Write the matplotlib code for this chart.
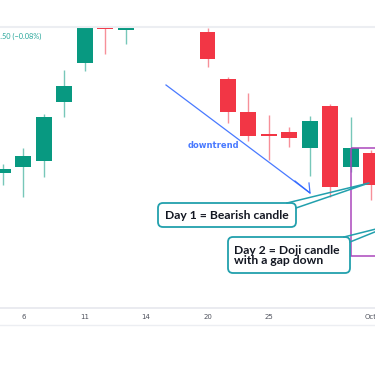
import matplotlib.pyplot as plt
from matplotlib.patches import FancyBboxPatch, Rectangle
from matplotlib.lines import Line2D

# daily candles (index = trading-day slot, 7..9 are above the visible pane)
idx = [0, 1, 2, 3, 4, 5, 6, 10, 11, 12, 13, 14, 15, 16, 17, 18]
opens = [135.5, 136.1, 136.7, 142.6, 146.5, 151.3, 149.8, 149.6, 144.9, 141.6, 139.4, 139.6, 138.0, 142.2, 136.1, 137.5]
closes = [135.9, 137.2, 141.1, 144.2, 150.2, 149.9, 150.8, 146.9, 141.6, 139.2, 139.2, 139.0, 140.7, 134.1, 138.0, 134.3]
highs = [136.4, 138.0, 141.4, 145.8, 150.8, 151.8, 151.3, 150.0, 145.1, 143.5, 141.3, 140.1, 141.2, 142.4, 141.1, 137.8]
lows = [134.3, 133.1, 135.1, 141.1, 145.7, 147.4, 148.4, 146.1, 140.5, 138.7, 136.8, 138.1, 135.2, 133.1, 135.6, 132.8]

tick_pos = [1, 4, 7, 10, 13, 18]
tick_labels = ["6", "11", "14", "20", "25", "Oct"]

UP = "#089981"
DOWN = "#f23645"

fig = plt.figure(figsize=(3.75, 3.66), dpi=100)
W, H = 375, 366

# price pane: pixel rows 28..308
ax = fig.add_axes([0, (H - 308) / H, 1, 280 / H])
ax.set_xlim((0 - 3) / 20.45, (W - 3) / 20.45)
ax.set_ylim(122.0, 150.0)
ax.axis("off")

for i, o, c, h, l in zip(idx, opens, closes, highs, lows):
    col = UP if c >= o else DOWN
    ax.vlines(i, l, h, color=col, lw=1.0, alpha=0.55, zorder=2)
    body = abs(c - o)
    if body < 0.1:
        body = 0.1
    ax.bar(i, body, bottom=min(o, c), width=0.78, color=col, zorder=3, linewidth=0)

# overlay in pixel coordinates for drawings and frame
ov = fig.add_axes([0, 0, 1, 1], zorder=5)
ov.set_xlim(0, W)
ov.set_ylim(H, 0)
ov.axis("off")
ov.patch.set_alpha(0)

# pane separators
ov.plot([0, W], [27, 27], color="#eceef2", lw=1.5)
ov.plot([0, W], [308, 308], color="#e6e8ee", lw=1.2)
ov.plot([0, W], [325, 325], color="#eceef2", lw=1.0)

for p, lab in zip(tick_pos, tick_labels):
    xp = 3 + 20.45 * p
    ov.text(xp, 317, lab, ha="center", va="center", fontsize=5, color="#50535e")

ov.text(-4, 36, "9.50 (\u22120.08%)", ha="left", va="center", fontsize=5.3,
        color="#26a69a", family="Lato")

# downtrend arrow
blue = "#2962ff"
ov.plot([166, 310], [85, 193], color=blue, lw=0.9, alpha=0.85)
ov.plot([295, 310, 309], [181, 193, 183], color=blue, lw=0.9, alpha=0.85)
ov.text(188, 145, "downtrend", ha="left", va="center", fontsize=6, color=blue,
        fontweight="bold", alpha=0.85)

# highlight box
ov.add_patch(Rectangle((351, 148), 40, 108, fill=False, edgecolor="#ab47bc", lw=1.1))

# callouts
teal = "#22a0ad"


def callout(x0, y0, x1, y1, base, tip, lines, tx):
    box = FancyBboxPatch((x0, y0), x1 - x0, y1 - y0,
                         boxstyle="round,pad=0,rounding_size=5",
                         facecolor="white", edgecolor=teal, lw=1.3, zorder=6)
    ov.add_patch(box)
    ov.add_line(Line2D([base[0][0], tip[0], base[1][0]],
                       [base[0][1], tip[1], base[1][1]],
                       color=teal, lw=1.1, zorder=7))
    ov.text(tx, (y0 + y1) / 2 + 0.5, lines, ha="left", va="center", fontsize=8.7,
            color="#131722", linespacing=0.9, zorder=8, fontweight="bold",
            family="Lato")


callout(158, 203, 296, 227, [(287, 203), (296, 208)], (369, 183),
        "Day 1 = Bearish candle", 165)
callout(228, 237, 350, 273, [(344, 237), (350, 242)], (392, 225),
        "Day 2 = Doji candle\nwith a gap down", 234)

fig.savefig("out.png", dpi=100)
